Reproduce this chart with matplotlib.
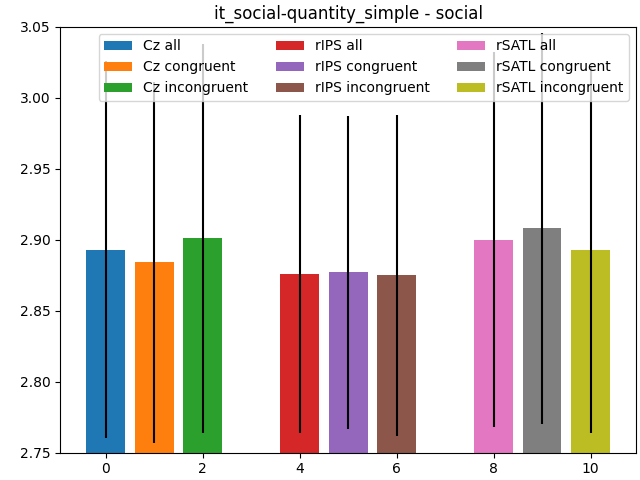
import matplotlib.pyplot as plt
import numpy as np

labels = ['Cz all', 'Cz congruent', 'Cz incongruent',
          'rIPS all', 'rIPS congruent', 'rIPS incongruent',
          'rSATL all', 'rSATL congruent', 'rSATL incongruent']
positions = [0, 1, 2, 4, 5, 6, 8, 9, 10]
means = [2.893, 2.884, 2.901, 2.876, 2.877, 2.875, 2.900, 2.908, 2.893]
errors = [0.133, 0.127, 0.137, 0.112, 0.110, 0.113, 0.132, 0.138, 0.129]

fig, ax = plt.subplots(figsize=(6.4, 4.8))
for i, (x, m, e, lab) in enumerate(zip(positions, means, errors, labels)):
    ax.bar(x, m, yerr=e, color=f'C{i}', label=lab)
ax.set_ylim(2.75, 3.05)
ax.set_title('it_social-quantity_simple - social')
ax.legend(ncol=3, loc='upper right')
fig.subplots_adjust(left=0.094, right=0.994, top=0.944, bottom=0.057)
fig.savefig('out.png', dpi=100)
